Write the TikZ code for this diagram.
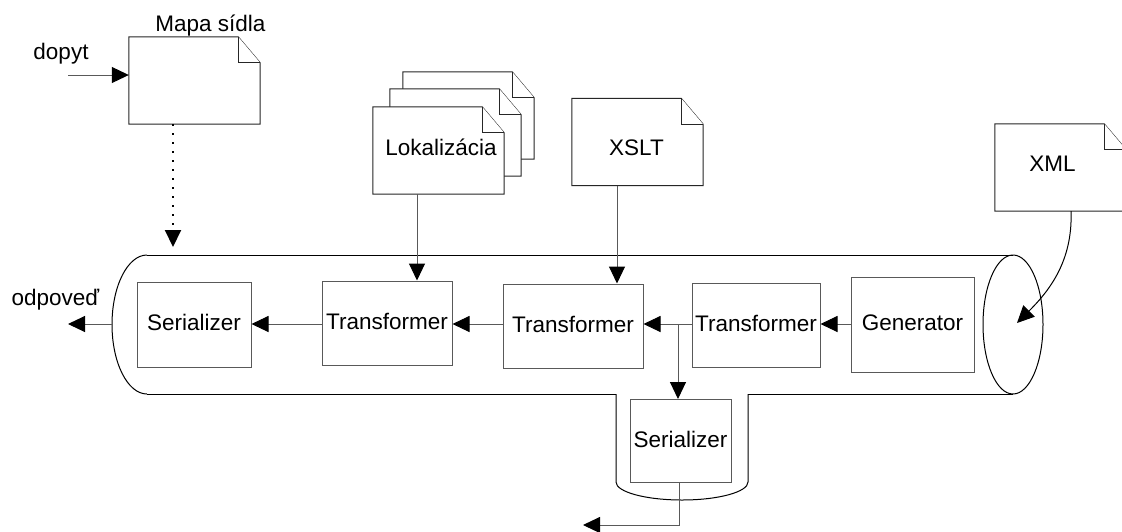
\documentclass[tikz,border=0pt]{standalone}
\usepackage{fontspec}
\setmainfont{Liberation Sans}
\usetikzlibrary{arrows.meta,calc}

\newcommand\lblfont{\fontsize{22.5pt}{27pt}\selectfont}

% note-shaped document outline with a folded top-right corner
\newcommand\notedoc[1]{%
  \filldraw[docline] (#1.north west) -- ([xshift=-22pt]#1.north east)
    -- ([yshift=-26pt]#1.north east) -- (#1.south east) -- (#1.south west) -- cycle;
  \draw[docline] ([xshift=-22pt]#1.north east) |- ([yshift=-26pt]#1.north east);
}

\tikzset{
  docnode/.style={rectangle, inner sep=0pt, minimum width=131pt, minimum height=87pt},
  docline/.style={draw=black!85, fill=white, line width=1pt},
  txt/.style={font=\lblfont, inner sep=0pt, anchor=base},
  stage/.style={draw=black!65, line width=1pt, inner sep=0pt, font=\lblfont,
                text height=16pt, text depth=4pt},
  conn/.style={draw=black!65, line width=1pt,
               -{Triangle[length=17pt,width=16pt,color=black]}},
  pipe/.style={draw=black, line width=1pt},
}

\begin{document}
\begin{tikzpicture}[x=1pt,y=-1pt]
\useasboundingbox (0,0) rectangle (1122,531);
\fill[white] (0,0) rectangle (1122,531);
\clip (0,0) rectangle (1122,531);

% ---- pipeline tube ----
\draw[pipe] (147,255) -- (1013,255);
\draw[pipe] (147,255) arc[start angle=90, end angle=270, x radius=35pt, y radius=69.5pt];
\draw[pipe] (147,394) -- (616,394);
\draw[pipe] (748,394) -- (1013,394);
\draw[pipe] (1013,324.5) ellipse [x radius=30pt, y radius=69.5pt];
% branch outlet below the tube
\draw[pipe] (616,394) -- (616,482)
  arc[start angle=180, end angle=360, x radius=66pt, y radius=18pt] -- (748,394);

% ---- pipeline stages ----
\node[stage, minimum width=114pt, minimum height=85pt] (ser1) at (194,324.5) {Serializer};
\node[stage, minimum width=130pt, minimum height=84pt] (tr1) at (387,323) {Transformer};
\node[stage, minimum width=140pt, minimum height=84pt] (tr2) at (573,326) {Transformer};
\node[stage, minimum width=128pt, minimum height=84pt] (tr3) at (756,325) {Transformer};
\node[stage, minimum width=123pt, minimum height=95pt] (gen) at (912.5,324.5) {Generator};
\node[stage, minimum width=101pt, minimum height=83pt] (ser2) at (680.5,441) {Serializer};

% ---- documents ----
\node[docnode] (mapa) at (194.5,80.5) {};
\notedoc{mapa}
\node[txt] (mapaT) at (210.5,31) {Mapa sídla};

\node[docnode] (loc3) at (468.5,115.5) {};
\notedoc{loc3}
\node[docnode] (loc2) at (455.5,132.5) {};
\notedoc{loc2}
\node[docnode] (loc) at (438.5,150.5) {};
\notedoc{loc}
\node[txt] (locT) at (441,155) {Lokalizácia};

\node[docnode] (xslt) at (637.5,142) {};
\notedoc{xslt}
\node[txt] (xsltT) at (636.5,155) {XSLT};

\node[docnode] (xml) at (1060.5,167.5) {};
\notedoc{xml}
\node[txt] (xmlT) at (1052.5,171) {XML};

% ---- free labels ----
\node[txt] (dopyt) at (61,59) {dopyt};
\node[txt] (odp) at (55.5,305) {odpoveď};

% ---- connector end points ----
\coordinate (dopytin) at (68,75);
\coordinate (mapaout) at ([xshift=-21.5pt]mapa.south);
\coordinate (pipein) at (173,247);
\coordinate (locout) at ([xshift=-21.5pt]loc.south);
\coordinate (xsltout) at ([xshift=-20.5pt]xslt.south);
\coordinate (xmlout) at ([xshift=10.5pt]xml.south);
\coordinate (xmlin) at (1017,323);
\coordinate (pipeL) at (112,324);
\coordinate (out1) at (68,324);
\coordinate (br) at (678,324);
\coordinate (ser2out) at ([xshift=-1.5pt]ser2.south);
\coordinate (out2) at (583,525);

% ---- connectors ----
\draw[conn] (dopytin) -- (dopytin -| mapa.west);
\draw[black, line width=2pt, dash pattern=on 2pt off 7pt,
      -{Triangle[length=17pt,width=16pt,color=black]}] (mapaout) -- (pipein);
\draw[conn] (locout) -- (locout |- tr1.north);
\draw[conn] (xsltout) -- (xsltout |- tr2.north);
\draw[conn, draw=black] (xmlout) .. controls (1073,262) and (1048,292) .. (xmlin);

\draw[conn] (gen.west |- br) -- (tr3.east |- br);
\draw[conn] (tr3.west |- br) -- (tr2.east |- br);
\draw[conn] (tr2.west |- br) -- (tr1.east |- br);
\draw[conn] (tr1.west |- br) -- (ser1.east |- br);
\draw[conn] (pipeL) -- (out1);
\draw[conn] (br) -- (br |- ser2.north);
\draw[conn] (ser2out) |- (out2);
\end{tikzpicture}
\end{document}
